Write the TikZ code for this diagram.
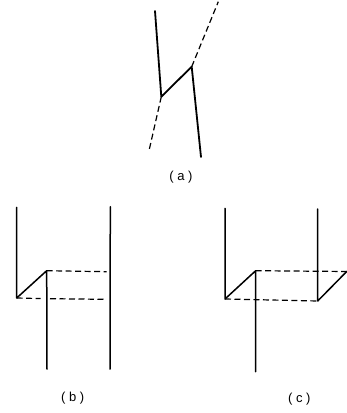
\documentclass[tikz,border=0pt]{standalone}
\usepackage{fontspec}
\setmainfont{Liberation Sans}
\tikzset{
  solidline/.style={line width=1.8pt,black,line cap=round,line join=round},
  thinline/.style={line width=1.5pt,black,line cap=round,line join=round},
  dashline/.style={line width=1.2pt,black,dash pattern=on 6pt off 3.5pt},
  caption/.style={inner sep=0pt,font=\fontsize{13}{15}\selectfont,black}
}
\begin{document}
\begin{tikzpicture}[x=1pt,y=-1pt]
\useasboundingbox (0,0) rectangle (347,413);
% (a)
\coordinate (a1) at (155,11);
\coordinate (a2) at (161.3,96.7);
\coordinate (a3) at (191.7,66.7);
\coordinate (a4) at (201,157);
\coordinate (a5) at (149,150.7);
\coordinate (a6) at (218.3,1.7);
\draw[solidline] (a1) -- (a2) -- (a3) -- (a4);
\draw[dashline] (a2) -- (a5);
\draw[dashline] (a3) -- (a6);
\node[caption] (la) at (181,176.7) {( a )};
% (b)
\coordinate (b1) at (16.7,207.3);
\coordinate (b2) at (16.7,298);
\coordinate (b3) at (46.7,270.7);
\coordinate (b4) at (47,369);
\coordinate (b5) at (110.3,206.7);
\coordinate (b6) at (110,369);
\coordinate (b7) at (106.7,271.7);
\coordinate (b8) at (40.7,298.6);
\coordinate (b9) at (50,298.7);
\coordinate (b10) at (104,299.3);
\draw[thinline] (b1) -- (b2) -- (b3) -- (b4);
\draw[thinline] (b5) -- (b6);
\draw[dashline] (b3) -- (b7);
\draw[dashline] (b2) -- (b8);
\draw[dashline] (b9) -- (b10);
\node[caption] (lb) at (72.7,398) {( b )};
% (c)
\coordinate (c1) at (225,208.3);
\coordinate (c2) at (225,299);
\coordinate (c3) at (255.7,270.7);
\coordinate (c4) at (255.7,371.7);
\coordinate (c5) at (317.7,209);
\coordinate (c6) at (317.7,301);
\coordinate (c7) at (346.7,271.5);
\draw[thinline] (c1) -- (c2) -- (c3) -- (c4);
\draw[thinline] (c5) -- (c6) -- (c7);
\draw[dashline] (c3) -- (c7);
\draw[dashline] (c2) -- (c6);
\node[caption] (lc) at (299.3,399.3) {( c )};
\end{tikzpicture}
\end{document}
